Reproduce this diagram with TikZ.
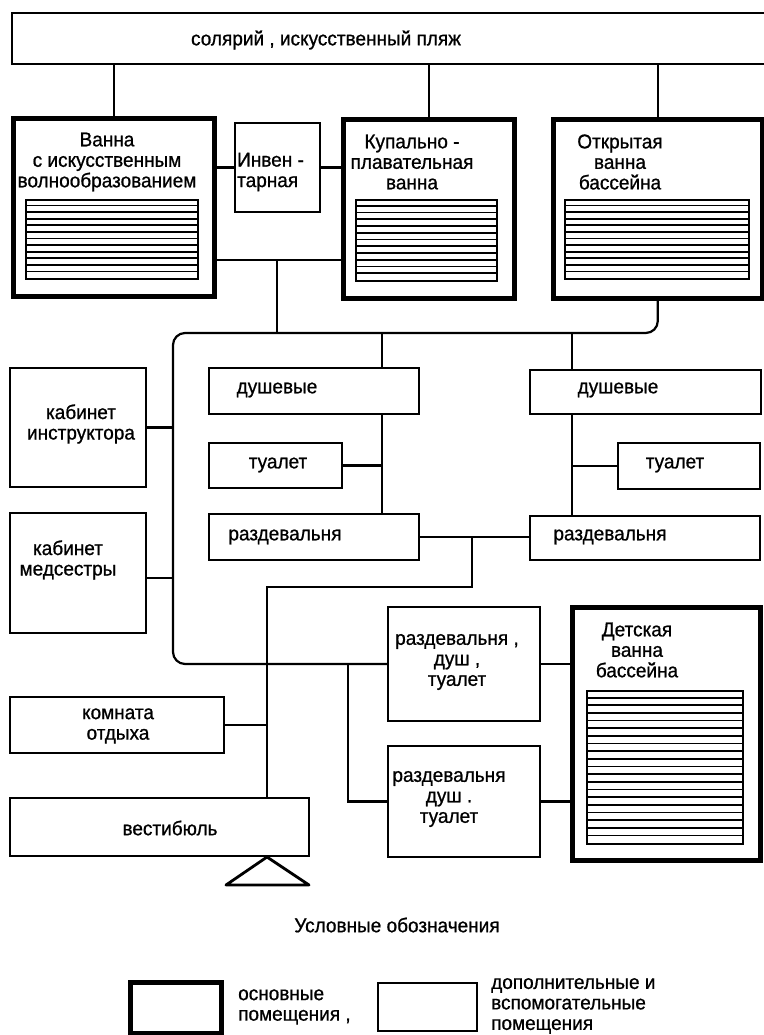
\documentclass[tikz,border=0pt]{standalone}
\usepackage{fontspec}
\setmainfont{Liberation Sans}[FakeStretch=0.95,FakeBold=0.8]
\newcommand\roombox[6]{\node[#2, minimum width={(#5)-(#3)}, minimum height={(#6)-(#4)}] (#1) at (#3,#4) {};}
\newcommand\hatchbox[6]{%
  \node[draw, line width=1.8pt, inner sep=0pt, anchor=north west, minimum width={(#4)-(#2)}, minimum height={(#5)-(#3)}] (#1) at (#2,#3) {};
  \pgfmathtruncatemacro\hn{#6-1}%
  \foreach \i in {1,...,\hn}{\draw[hatchline] (#2,{#3+\i*((#5)-(#3))/#6}) -- (#4,{#3+\i*((#5)-(#3))/#6});}}
\begin{document}
\begin{tikzpicture}[x=1pt,y=-1pt,
  mainroom/.style={draw, line width=4.6pt, inner sep=0pt, anchor=north west},
  auxroom/.style={draw, line width=2pt, inner sep=0pt, anchor=north west},
  lbl/.style={inner sep=0pt, align=center, font=\fontsize{20}{20.5}\selectfont},
  lbll/.style={lbl, align=left, anchor=west},
  conn/.style={line width=2.2pt},
  hatchline/.style={line width=1.7pt}]
\useasboundingbox[fill=white] (0,0) rectangle (763,1035);

% rooms
\roombox{sol}{auxroom}{11}{12}{772}{63}
\roombox{b1}{mainroom}{11}{116}{212}{294}
\roombox{inv}{auxroom}{234}{122}{319}{211}
\roombox{b2}{mainroom}{341}{117}{512}{296}
\roombox{b3}{mainroom}{551}{117}{760}{296}
\roombox{dushL}{auxroom}{208}{367}{418}{413}
\roombox{tualL}{auxroom}{208}{442}{341}{487}
\roombox{razL}{auxroom}{208}{513}{418}{559}
\roombox{dushR}{auxroom}{529}{369}{760}{413}
\roombox{tualR}{auxroom}{617}{442}{759}{488}
\roombox{razR}{auxroom}{529}{515}{759}{559}
\roombox{kabI}{auxroom}{9}{367}{145}{486}
\roombox{kabM}{auxroom}{9}{512}{145}{632}
\roombox{rdt1}{auxroom}{387}{606}{539}{720}
\roombox{rdt2}{auxroom}{387}{745}{539}{856}
\roombox{det}{mainroom}{570}{605}{758}{858}
\roombox{kom}{auxroom}{9}{696}{223}{752}
\roombox{vest}{auxroom}{9}{797}{308}{855}
\roombox{legM}{mainroom}{128}{980}{219}{1031}
\roombox{legA}{auxroom}{377}{982}{476}{1030}

% pools (hatched)
\hatchbox{h1}{25}{199}{197}{278}{12}
\hatchbox{h2}{355}{199}{496}{280}{12}
\hatchbox{h3}{564}{199}{748}{278}{12}
\hatchbox{h4}{586}{690}{742}{843}{20}

% labels
\node[lbl] (tsol) at (326,40) {солярий , искусственный пляж};
\node[lbl] (tb1) at (107,162) {Ванна\\с искусственным\\волнообразованием};
\node[lbll] (tinv) at (237,172) {Инвен -\\тарная};
\node[lbl] (tb2) at (412,162) {Купально -\\плавательная\\ванна};
\node[lbl] (tb3) at (620,162) {Открытая\\ванна\\бассейна};
\node[lbl] (tdL) at (277,390) {душевые};
\node[lbl] (ttL) at (278,465) {туалет};
\node[lbl] (trL) at (285,537) {раздевальня};
\node[lbl] (tdR) at (618,390) {душевые};
\node[lbl] (ttR) at (675,465) {туалет};
\node[lbl] (trR) at (610,537) {раздевальня};
\node[lbl] (tkI) at (81,424) {кабинет\\инструктора};
\node[lbl] (tkM) at (68,560) {кабинет\\медсестры};
\node[lbl] (tr1) at (457,662) {раздевальня ,\\душ ,\\туалет};
\node[lbl] (tr2) at (449,799) {раздевальня\\душ .\\туалет};
\node[lbl] (tdet) at (637,650) {Детская\\ванна\\бассейна};
\node[lbl] (tkom) at (118,726) {комната\\отдыха};
\node[lbl] (tvest) at (170,828) {вестибюль};
\node[lbl] (tleg) at (397,925) {Условные обозначения};
\node[lbll] (tlegM) at (238,1007) {основные\\помещения ,};
\node[lbll] (tlegA) at (491,1006) {дополнительные и\\вспомогательные\\помещения};

% connectors
\coordinate (busL) at (173,333);
\coordinate (j1) at (277,260);
\coordinate (vL) at (382,333);
\coordinate (vR) at (572,333);
\coordinate (j2) at (472,537);
\coordinate (j3) at (267,587);
\coordinate (j4) at (348,663);

\draw[conn] (b1.north) -- (b1.north |- sol.south);
\draw[conn] (b2.north) -- (b2.north |- sol.south);
\draw[conn] (b3.north) -- (b3.north |- sol.south);
\draw[conn] (inv.west) -- (inv.west -| b1.east);
\draw[conn] (inv.east) -- (inv.east -| b2.west);
\draw[conn] (b1.east |- j1) -- (b2.west |- j1);
\draw[conn] (j1) -- (j1 |- busL);
\draw[conn, rounded corners=12pt] (b3.south) |- (busL) |- (rdt1.west);
\draw[conn] (vL) -- (vL |- dushL.north);
\draw[conn] (vL |- dushL.south) -- (vL |- razL.north);
\draw[conn] (tualL.east) -- (tualL.east -| vL);
\draw[conn] (vR) -- (vR |- dushR.north);
\draw[conn] (vR |- dushR.south) -- (vR |- razR.north);
\draw[conn] (tualR.west) -- (tualR.west -| vR);
\draw[conn] (razL.east) -- (razL.east -| razR.west);
\draw[conn] (j2) |- (j3) -- (j3 |- vest.north);
\draw[conn] (kabI.east) -- (kabI.east -| busL);
\draw[conn] ([yshift=-5pt]kabM.east) -- ([yshift=-5pt]kabM.east -| busL);
\draw[conn] (kom.east) -- (kom.east -| j3);
\draw[conn] (rdt1.east) -- (rdt1.east -| det.west);
\draw[conn] (rdt2.east) -- (rdt2.east -| det.west);
\draw[conn] (j4) |- (rdt2.west);

% entrance triangle
\draw[line width=2.8pt, line join=round] (j3 |- vest.south) -- ++(-41,28) -- ++(83,0) -- cycle;
\end{tikzpicture}
\end{document}
